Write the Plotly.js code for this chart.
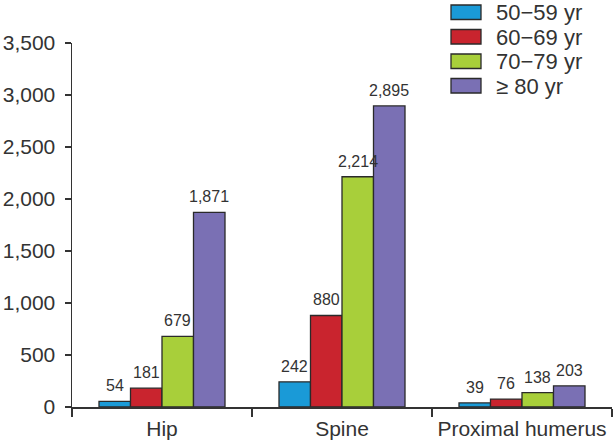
<!DOCTYPE html>
<html>
<head>
<meta charset="utf-8">
<script src="https://cdn.plot.ly/plotly-3.0.1.min.js"></script>
<style>
  html, body { margin: 0; padding: 0; background: #fff; }
  #chart { width: 616px; height: 444px; }
</style>
</head>
<body>
<div id="chart"></div>
<script>
// fracture sites and age groups
const sites = ['Hip', 'Spine', 'Proximal humerus'];
const ageGroups = ['50\u221259 yr', '60\u221269 yr', '70\u221279 yr', '\u2265 80 yr'];

// counts per age group, in order of sites
const age50 = [54, 242, 39];
const age60 = [181, 880, 76];
const age70 = [679, 2214, 138];
const age80 = [1871, 2895, 203];

const yTicks = [0, 500, 1000, 1500, 2000, 2500, 3000, 3500];

const colors = ['#1a9ad7', '#c9242e', '#a8cf3a', '#7a70b4'];
const series = [age50, age60, age70, age80];
const fontFamily = '"Liberation Sans", Arial, sans-serif';

const bargap = 0.3;
const barW = (1 - bargap) / series.length;   // width of one bar, category units

const traces = series.map((vals, i) => ({
    type: 'bar',
    name: ageGroups[i],
    x: sites,
    y: vals,
    marker: { color: colors[i], line: { color: '#2a2a2a', width: 1.3 } },
    showlegend: false,
    hoverinfo: 'x+y'
}));

const shapes = [];
const annotations = [];

// value labels above each bar
series.forEach((vals, i) => {
    vals.forEach((v, j) => {
        annotations.push({
            x: j - (1 - bargap) / 2 + barW * (i + 0.5),
            y: v,
            xref: 'x', yref: 'y',
            text: v.toLocaleString('en-US'),
            showarrow: false,
            xanchor: 'center', yanchor: 'bottom',
            yshift: 5,
            font: { family: fontFamily, size: 16, color: '#333' }
        });
    });
});

// legend drawn by hand: boxes + labels in the top right corner
// plot area is 43..407 px tall, 72..612 px wide
ageGroups.forEach((g, i) => {
    const top = 5 + i * 24.5;
    shapes.push({
        type: 'rect', xref: 'paper', yref: 'paper',
        x0: (451 - 72) / 540, x1: (481 - 72) / 540,
        y0: (407 - (top + 14.5)) / 364, y1: (407 - top) / 364,
        line: { color: '#2a2a2a', width: 1.3 },
        fillcolor: colors[i]
    });
    annotations.push({
        xref: 'paper', yref: 'paper',
        x: (495 - 72) / 540, y: (407 - (top + 7.5)) / 364,
        xanchor: 'left', yanchor: 'middle',
        borderpad: 0,
        text: g, showarrow: false,
        font: { family: fontFamily, size: 22, color: '#333' }
    });
});

const layout = {
    width: 616,
    height: 444,
    margin: { l: 72, r: 4, t: 43, b: 37 },
    paper_bgcolor: '#fff',
    plot_bgcolor: '#fff',
    font: { family: fontFamily, color: '#333' },
    barmode: 'group',
    bargap: bargap,
    bargroupgap: 0,
    showlegend: false,
    xaxis: {
        type: 'category',
        range: [-0.5, 2.5],
        showline: true, linecolor: '#333', linewidth: 1.5,
        ticks: 'outside', tickson: 'boundaries', ticklen: 8, tickwidth: 1.5, tickcolor: '#333',
        tickangle: 0,
        ticklabelstandoff: 2,
        tickfont: { family: fontFamily, size: 21, color: '#333' },
        showgrid: false, zeroline: false, fixedrange: true
    },
    yaxis: {
        range: [0, 3500],
        tickvals: yTicks,
        tickformat: ',',
        showline: true, linecolor: '#333', linewidth: 1.5,
        ticks: 'outside', ticklen: 6, tickwidth: 1.5, tickcolor: '#333',
        ticklabelstandoff: 5,
        tickfont: { family: fontFamily, size: 21, color: '#333' },
        showgrid: false, zeroline: false, fixedrange: true
    },
    shapes: shapes,
    annotations: annotations
};

Plotly.newPlot('chart', traces, layout, { displayModeBar: false, staticPlot: true });
</script>
</body>
</html>
